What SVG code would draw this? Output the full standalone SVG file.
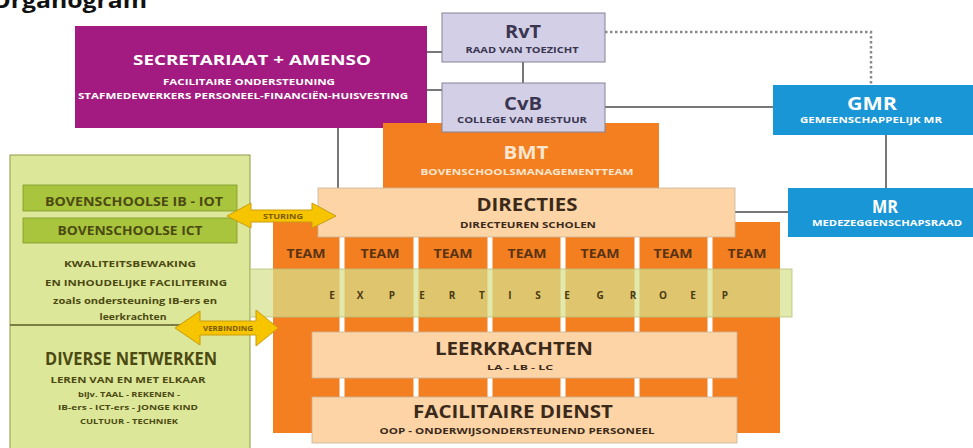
<svg xmlns="http://www.w3.org/2000/svg" width="973" height="448" viewBox="0 0 973 448">
<style>
  text { font-family: "Open Sans", "Liberation Sans", sans-serif; font-weight: bold; text-anchor: middle; }
  .ln { stroke: #4a4a4a; stroke-width: 1.5; fill: none; }
  .dot { stroke: #8a8a8a; stroke-width: 2.5; stroke-dasharray: 2.5 2.5; fill: none; }
  .purple { fill: #a31b80; }
  .lav { fill: #d3cfe6; stroke: #85819a; stroke-width: 1; }
  .blue { fill: #1996d6; }
  .orange { fill: #f47f21; }
  .peach { fill: #fcd4a6; stroke: #c9b39a; stroke-width: 0.8; }
  .panel { fill: #dde799; stroke: #8f9a45; stroke-width: 1; }
  .gbox { fill: #a9c53d; stroke: #7f9a2a; stroke-width: 0.8; }
  .w { fill: #ffffff; }
  .wl { fill: #fbe6cf; }
  .dk { fill: #3b2a1a; }
  .ol { fill: #4b4a12; }
  .lv { fill: #3a3550; }
  .arrow { fill: #f7c400; stroke: #c99c10; stroke-width: 1; }
  .atx { fill: #7a5a00; font-size: 7px; }
  .xp { fill: #4a3a10; font-size: 10px; }
</style>

<text x="-9" y="8" font-size="21" textLength="156" lengthAdjust="spacingAndGlyphs" style="text-anchor:start" fill="#111">Organogram</text>

<g id="connectors">
  <line class="ln" x1="427" y1="52" x2="442" y2="52"/>
  <line class="ln" x1="427" y1="90" x2="442" y2="90"/>
  <line class="ln" x1="523" y1="62" x2="523" y2="83"/>
  <line class="ln" x1="338" y1="128" x2="338" y2="188"/>
  <line class="ln" x1="605" y1="107" x2="773" y2="107"/>
  <line class="ln" x1="886" y1="135" x2="886" y2="188"/>
  <line class="ln" x1="735" y1="212" x2="788" y2="212"/>
  <polyline class="dot" points="605,32 871,32 871,85"/>
</g>

<g id="secretariaat">
  <rect class="purple" x="75" y="26" width="352" height="102"/>
  <text class="w" x="252" y="65" font-size="15" textLength="238" lengthAdjust="spacingAndGlyphs">SECRETARIAAT + AMENSO</text>
  <text class="w" x="249" y="85" font-size="9" textLength="172" lengthAdjust="spacingAndGlyphs">FACILITAIRE ONDERSTEUNING</text>
  <text class="w" x="243" y="99" font-size="9" textLength="330" lengthAdjust="spacingAndGlyphs">STAFMEDEWERKERS PERSONEEL-FINANCIËN-HUISVESTING</text>
</g>

<g id="rvt">
  <rect class="lav" x="442" y="13" width="163" height="49"/>
  <text class="lv" x="523" y="38" font-size="17" textLength="36" lengthAdjust="spacingAndGlyphs">RvT</text>
  <text class="lv" x="522" y="53" font-size="8.5" textLength="113" lengthAdjust="spacingAndGlyphs">RAAD VAN TOEZICHT</text>
</g>

<g id="bmt">
  <rect class="orange" x="383" y="123" width="276" height="70"/>
  <text class="wl" x="526" y="159" font-size="17" textLength="45" lengthAdjust="spacingAndGlyphs">BMT</text>
  <text class="wl" x="527" y="175" font-size="8" textLength="213" lengthAdjust="spacingAndGlyphs">BOVENSCHOOLSMANAGEMENTTEAM</text>
</g>

<g id="cvb">
  <rect class="lav" x="442" y="83" width="163" height="49"/>
  <text class="lv" x="523" y="110" font-size="17" textLength="38" lengthAdjust="spacingAndGlyphs">CvB</text>
  <text class="lv" x="522" y="123" font-size="8.5" textLength="130" lengthAdjust="spacingAndGlyphs">COLLEGE VAN BESTUUR</text>
</g>

<g id="gmr">
  <rect class="blue" x="773" y="85" width="205" height="50"/>
  <text class="w" x="872" y="110" font-size="17" textLength="50" lengthAdjust="spacingAndGlyphs">GMR</text>
  <text class="w" x="871" y="123" font-size="8.5" textLength="142" lengthAdjust="spacingAndGlyphs">GEMEENSCHAPPELIJK MR</text>
</g>

<g id="mr">
  <rect class="blue" x="788" y="188" width="190" height="49"/>
  <text class="w" x="885" y="213" font-size="17" textLength="26" lengthAdjust="spacingAndGlyphs">MR</text>
  <text class="w" x="887" y="226" font-size="8.5" textLength="150" lengthAdjust="spacingAndGlyphs">MEDEZEGGENSCHAPSRAAD</text>
</g>

<g id="teams">
  <rect class="orange" x="273" y="222" width="507" height="211"/>
  <rect class="w" x="339.5" y="222" width="5" height="175"/>
  <rect class="w" x="413.5" y="222" width="5" height="175"/>
  <rect class="w" x="487.5" y="222" width="5" height="175"/>
  <rect class="w" x="560.5" y="222" width="5" height="175"/>
  <rect class="w" x="634.5" y="222" width="5" height="175"/>
  <rect class="w" x="707.5" y="222" width="5" height="175"/>
  <g font-size="13" fill="#5a3312">
    <text x="306" y="258" textLength="39" lengthAdjust="spacingAndGlyphs">TEAM</text>
    <text x="380" y="258" textLength="39" lengthAdjust="spacingAndGlyphs">TEAM</text>
    <text x="453" y="258" textLength="39" lengthAdjust="spacingAndGlyphs">TEAM</text>
    <text x="527" y="258" textLength="39" lengthAdjust="spacingAndGlyphs">TEAM</text>
    <text x="600" y="258" textLength="39" lengthAdjust="spacingAndGlyphs">TEAM</text>
    <text x="673" y="258" textLength="39" lengthAdjust="spacingAndGlyphs">TEAM</text>
    <text x="747" y="258" textLength="39" lengthAdjust="spacingAndGlyphs">TEAM</text>
  </g>
</g>

<g id="panel">
  <rect class="panel" x="10" y="155" width="240" height="300"/>
  <line x1="10" y1="325" x2="250" y2="325" stroke="#5a5a2a" stroke-width="1.5"/>
  <text class="ol" x="130" y="267" font-size="9" textLength="132" lengthAdjust="spacingAndGlyphs">KWALITEITSBEWAKING</text>
  <text class="ol" x="136" y="286" font-size="9" textLength="182" lengthAdjust="spacingAndGlyphs">EN INHOUDELIJKE FACILITERING</text>
  <text class="ol" x="135" y="304" font-size="9" textLength="164" lengthAdjust="spacingAndGlyphs">zoals ondersteuning IB-ers en</text>
  <text class="ol" x="133" y="320" font-size="9" textLength="67" lengthAdjust="spacingAndGlyphs">leerkrachten</text>
  <text class="ol" x="131" y="365" font-size="17" textLength="172" lengthAdjust="spacingAndGlyphs">DIVERSE NETWERKEN</text>
  <text class="ol" x="128" y="383" font-size="9" textLength="155" lengthAdjust="spacingAndGlyphs">LEREN VAN EN MET ELKAAR</text>
  <text class="ol" x="129" y="397" font-size="7.5" textLength="102" lengthAdjust="spacingAndGlyphs">bijv. TAAL - REKENEN -</text>
  <text class="ol" x="128" y="410" font-size="7.5" textLength="140" lengthAdjust="spacingAndGlyphs">IB-ers - ICT-ers - JONGE KIND</text>
  <text class="ol" x="129" y="424" font-size="7.5" textLength="98" lengthAdjust="spacingAndGlyphs">CULTUUR - TECHNIEK</text>
</g>

<g id="ib-iot">
  <rect class="gbox" x="23" y="185" width="214" height="26"/>
  <text class="ol" x="134" y="206" font-size="13" textLength="178" lengthAdjust="spacingAndGlyphs">BOVENSCHOOLSE IB - IOT</text>
</g>
<g id="ict">
  <rect class="gbox" x="23" y="218" width="214" height="25"/>
  <text class="ol" x="130" y="235" font-size="13" textLength="145" lengthAdjust="spacingAndGlyphs">BOVENSCHOOLSE ICT</text>
</g>

<g id="expertisegroep">
  <rect x="250" y="269" width="542" height="48" fill="#d6e18c" fill-opacity="0.72" stroke="#b9c07a" stroke-width="0.8"/>
  <text class="xp" x="332" y="299">E</text>
  <text class="xp" x="360" y="299">X</text>
  <text class="xp" x="392" y="299">P</text>
  <text class="xp" x="422" y="299">E</text>
  <text class="xp" x="452" y="299">R</text>
  <text class="xp" x="482" y="299">T</text>
  <text class="xp" x="510" y="299">I</text>
  <text class="xp" x="538" y="299">S</text>
  <text class="xp" x="567" y="299">E</text>
  <text class="xp" x="600" y="299">G</text>
  <text class="xp" x="633" y="299">R</text>
  <text class="xp" x="663" y="299">O</text>
  <text class="xp" x="693" y="299">E</text>
  <text class="xp" x="725" y="299">P</text>
</g>

<g id="directies">
  <rect class="peach" x="318" y="188" width="417" height="49"/>
  <text class="dk" x="527" y="211" font-size="18.5" textLength="101" lengthAdjust="spacingAndGlyphs">DIRECTIES</text>
  <text class="dk" x="528" y="228" font-size="8.5" textLength="136" lengthAdjust="spacingAndGlyphs">DIRECTEUREN SCHOLEN</text>
</g>

<g id="leerkrachten">
  <rect class="peach" x="312" y="332" width="425" height="46"/>
  <text class="dk" x="514" y="355" font-size="18" textLength="158" lengthAdjust="spacingAndGlyphs">LEERKRACHTEN</text>
  <text class="dk" x="520" y="370" font-size="7.5" textLength="66" lengthAdjust="spacingAndGlyphs">LA - LB - LC</text>
</g>

<g id="facilitaire-dienst">
  <rect class="peach" x="312" y="397" width="425" height="46"/>
  <text class="dk" x="513" y="418" font-size="18" textLength="200" lengthAdjust="spacingAndGlyphs">FACILITAIRE DIENST</text>
  <text class="dk" x="517" y="434" font-size="8.5" textLength="275" lengthAdjust="spacingAndGlyphs">OOP - ONDERWIJSONDERSTEUNEND PERSONEEL</text>
</g>

<g id="arrows">
  <polygon class="arrow" points="227,216 251,203 251,210 312,210 312,203 336,216 312,228 312,222 251,222 251,228"/>
  <text class="atx" x="283" y="219" textLength="40" lengthAdjust="spacingAndGlyphs">STURING</text>
  <polygon class="arrow" points="175,328 200,311 200,321 256,321 256,310 278,328 256,346 256,335 200,335 200,345"/>
  <text class="atx" x="228" y="331" textLength="50" lengthAdjust="spacingAndGlyphs">VERBINDING</text>
</g>
</svg>
